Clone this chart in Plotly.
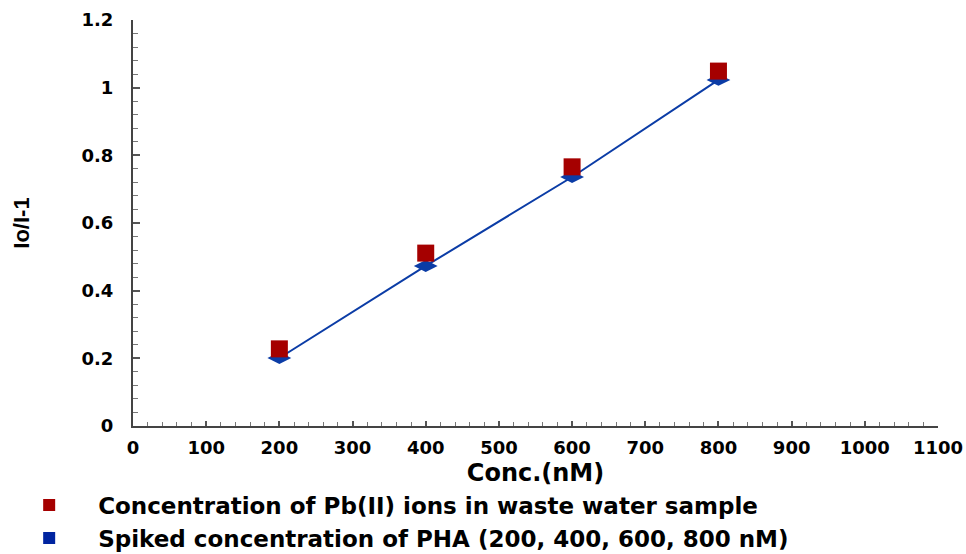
import plotly.graph_objects as go

conc = [200, 400, 600, 800]
pb_sample = [0.228, 0.511, 0.766, 1.049]
pha_spiked = [0.201, 0.473, 0.736, 1.023]

name_pb = "Concentration of Pb(II) ions in waste water sample"
name_pha = "Spiked concentration of PHA (200, 400, 600, 800 nM)"

RED = "#a50000"
BLUE = "#0b3ca6"
LEG_BLUE = "#0024a0"
HFONT = "DejaVu Sans"

fig = go.Figure()
fig.add_trace(go.Scatter(
    x=conc, y=pha_spiked, mode="lines+markers", showlegend=False,
    line=dict(color=BLUE, width=2),
    marker=dict(symbol="diamond-wide", size=17, color=BLUE),
))
fig.add_trace(go.Scatter(
    x=conc, y=pb_sample, mode="markers", name=name_pb,
    marker=dict(symbol="square", size=17, color=RED),
))
# legend proxy for the spiked series (square symbol in legend)
fig.add_trace(go.Scatter(
    x=[None], y=[None], mode="markers", name=name_pha,
    marker=dict(symbol="square", size=17, color=LEG_BLUE),
))

fig.update_layout(
    width=966, height=554,
    margin=dict(l=133, r=28, t=20, b=128, autoexpand=False),
    paper_bgcolor="white", plot_bgcolor="white",
    font=dict(family=HFONT, color="black", size=18, weight="bold"),
    legend=dict(
        x=-0.165, y=-0.142, xanchor="left", yanchor="top",
        font=dict(family=HFONT, size=23, color="black", weight="bold"),
        itemwidth=88, itemsizing="constant",
        traceorder="grouped", tracegroupgap=1,
        bgcolor="rgba(0,0,0,0)",
    ),
)
fig.update_xaxes(
    range=[0, 1100], tickmode="linear", tick0=0, dtick=100,
    showgrid=False, zeroline=False,
    showline=True, linecolor="#444444", linewidth=2,
    ticks="inside", ticklen=5, tickwidth=2, tickcolor="#555555",
    minor=dict(ticks="inside", ticklen=4, tickwidth=1, tickcolor="#777777", dtick=20),
    tickfont=dict(family=HFONT, size=18, weight="bold"),
    ticklabelstandoff=4,
    title=dict(text="Conc.(nM)", font=dict(family=HFONT, size=24, weight="bold"), standoff=8),
)
fig.update_yaxes(
    range=[0, 1.2], tickmode="linear", tick0=0, dtick=0.2,
    showgrid=False, zeroline=False,
    showline=True, linecolor="#444444", linewidth=2,
    ticks="inside", ticklen=7, tickwidth=2, tickcolor="#555555",
    minor=dict(ticks="inside", ticklen=5, tickwidth=1, tickcolor="#777777", dtick=0.04),
    tickfont=dict(family=HFONT, size=18, weight="bold"),
    ticklabelstandoff=14,
    title=dict(text="Io/I-1", font=dict(family="Liberation Sans", size=22, weight="bold"), standoff=46),
)

fig.write_html("out.html")
